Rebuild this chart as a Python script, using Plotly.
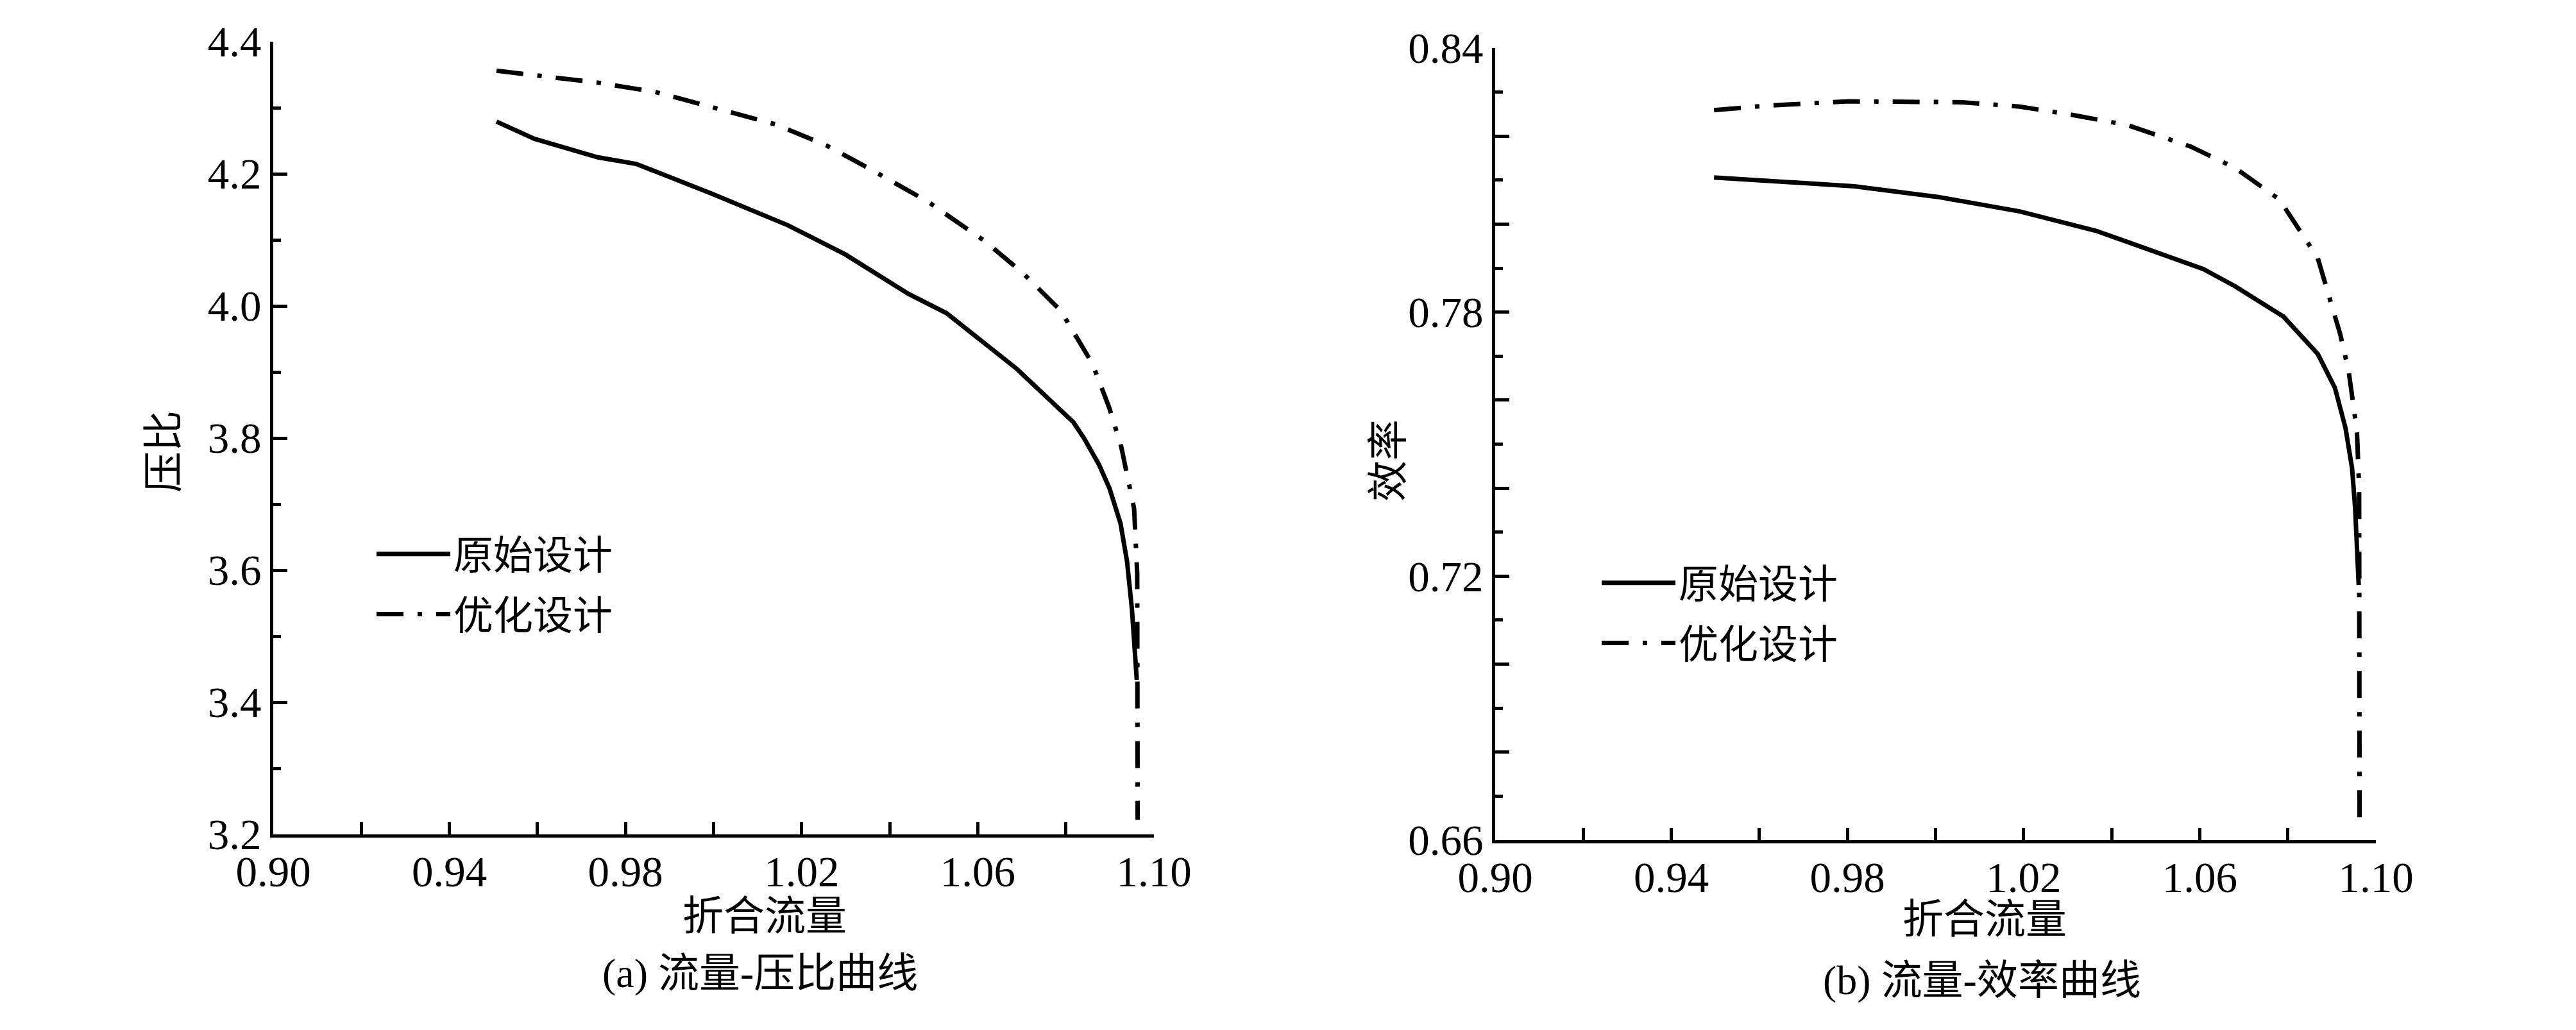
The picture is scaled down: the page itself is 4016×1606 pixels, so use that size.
import plotly.graph_objects as go

# ---------------- data ----------------
# (a) flow vs pressure ratio
flow_a_orig = [0.9507, 0.9593, 0.9737, 0.9824, 0.9996, 1.0169, 1.0299, 1.0443, 1.0529,
               1.0688, 1.0817, 1.0841, 1.0875, 1.0899, 1.0924, 1.0939, 1.0950, 1.0955, 1.0961]
pr_orig = [4.279, 4.253, 4.225, 4.215, 4.170, 4.122, 4.078, 4.018, 3.989,
           3.905, 3.824, 3.800, 3.760, 3.724, 3.671, 3.613, 3.541, 3.487, 3.434]

flow_a_opt = [0.9507, 0.9600, 0.9737, 0.9867, 0.9996, 1.0140, 1.0256, 1.0356, 1.0486,
              1.0616, 1.0702, 1.0788, 1.0860, 1.0899, 1.0926, 1.0955, 1.0962, 1.0963, 1.0963]
pr_opt = [4.356, 4.349, 4.338, 4.324, 4.301, 4.275, 4.243, 4.207, 4.158,
          4.098, 4.050, 3.993, 3.913, 3.845, 3.786, 3.693, 3.595, 3.479, 3.222]

# (b) flow vs efficiency
flow_b_orig = [0.9497, 0.9672, 0.9816, 1.0004, 1.0191, 1.0364, 1.0508, 1.0608, 1.0680,
               1.0790, 1.0868, 1.0907, 1.0931, 1.0946, 1.0953, 1.0958, 1.0961]
eff_orig = [0.8106, 0.8095, 0.8086, 0.8062, 0.8029, 0.7985, 0.7935, 0.7898, 0.7859,
            0.7790, 0.7705, 0.7628, 0.7537, 0.7445, 0.7353, 0.7263, 0.7180]

flow_b_opt = [0.9497, 0.9615, 0.9802, 0.9932, 1.0061, 1.0191, 1.0306, 1.0436, 1.0580,
              1.0680, 1.0781, 1.0868, 1.0919, 1.0938, 1.0957, 1.0962, 1.0963]
eff_opt = [0.8259, 0.8269, 0.8279, 0.8279, 0.8277, 0.8267, 0.8249, 0.8225, 0.8176,
           0.8128, 0.8056, 0.7923, 0.7750, 0.7667, 0.7530, 0.7400, 0.6638]

series_names = ["原始设计", "优化设计"]

x_tickvals = [0.90, 0.92, 0.94, 0.96, 0.98, 1.00, 1.02, 1.04, 1.06, 1.08, 1.10]
x_ticktext = ["0.90", "", "0.94", "", "0.98", "", "1.02", "", "1.06", "", "1.10"]
ya_tickvals = [3.2, 3.4, 3.6, 3.8, 4.0, 4.2, 4.4]
ya_ticktext = ["3.2", "3.4", "3.6", "3.8", "4.0", "4.2", "4.4"]
yb_tickvals = [0.66, 0.68, 0.70, 0.72, 0.74, 0.76, 0.78, 0.80, 0.82, 0.84]
yb_ticktext = ["0.66", "", "", "0.72", "", "", "0.78", "", "", "0.84"]

# ---------------- styling ----------------
SERIF = "Liberation Serif, Times New Roman, serif"
CJK = "Liberation Serif, Noto Sans CJK SC, serif"
LW = 7
DASHDOT = "42px,22px,7px,22px"

fig = go.Figure()

fig.add_trace(go.Scatter(x=flow_a_orig, y=pr_orig, mode="lines", name=series_names[0],
                         legendgroup="a1", line=dict(color="black", width=LW),
                         xaxis="x", yaxis="y", legend="legend"))
fig.add_trace(go.Scatter(x=flow_a_opt, y=pr_opt, mode="lines", name=series_names[1],
                         legendgroup="a2", line=dict(color="black", width=LW, dash=DASHDOT),
                         xaxis="x", yaxis="y", legend="legend"))
fig.add_trace(go.Scatter(x=flow_b_orig, y=eff_orig, mode="lines", name=series_names[0],
                         legendgroup="b1", line=dict(color="black", width=LW),
                         xaxis="x2", yaxis="y2", legend="legend2"))
fig.add_trace(go.Scatter(x=flow_b_opt, y=eff_opt, mode="lines", name=series_names[1],
                         legendgroup="b2", line=dict(color="black", width=LW, dash=DASHDOT),
                         xaxis="x2", yaxis="y2", legend="legend2"))

W, H = 4016, 1606
OFF = 8  # page body margin

def px(x):
    return (x - OFF) / W

def py(y):
    return (H - (y - OFF)) / H

axis_common = dict(showline=True, linecolor="black", linewidth=5, mirror=False,
                   showgrid=False, zeroline=False, ticks="inside", tickcolor="black",
                   tickwidth=5, tickmode="array", automargin=False,
                   tickfont=dict(family=SERIF, size=67, color="black"))

def ann(text, x, y, angle=0):
    return dict(text=text, x=px(x), y=py(y), xref="paper", yref="paper",
                xanchor="center", yanchor="middle", textangle=angle,
                showarrow=False, font=dict(family=CJK, size=64, color="black"))

fig.update_layout(
    width=W, height=H,
    margin=dict(l=0, r=0, t=0, b=0, autoexpand=False),
    paper_bgcolor="white", plot_bgcolor="white",
    xaxis=dict(domain=[px(426), px(1799)], range=[0.90, 1.10], anchor="y",
               tickvals=x_tickvals, ticktext=x_ticktext, ticklen=19,
               ticklabelstandoff=-4, **axis_common),
    yaxis=dict(domain=[py(1301), py(65)], range=[3.2, 4.4], anchor="x",
               tickvals=ya_tickvals, ticktext=ya_ticktext, ticklen=22,
               ticklabelstandoff=0,
               minor=dict(tick0=3.2, dtick=0.1, ticks="inside", ticklen=12,
                          tickwidth=5, tickcolor="black"),
               **axis_common),
    xaxis2=dict(domain=[px(2331), px(3704)], range=[0.90, 1.10], anchor="y2",
                tickvals=x_tickvals, ticktext=x_ticktext, ticklen=19,
                ticklabelstandoff=-4, **axis_common),
    yaxis2=dict(domain=[py(1310), py(75)], range=[0.66, 0.84], anchor="x2",
                tickvals=yb_tickvals, ticktext=yb_ticktext, ticklen=22,
                ticklabelstandoff=0,
                minor=dict(tick0=0.66, dtick=0.01, ticks="inside", ticklen=12,
                           tickwidth=5, tickcolor="black"),
                **axis_common),
    legend=dict(x=px(582), y=py(817), xanchor="left", yanchor="top",
                bgcolor="rgba(0,0,0,0)", font=dict(family=CJK, size=62, color="black"),
                itemwidth=115, tracegroupgap=10),
    legend2=dict(x=px(2492), y=py(862), xanchor="left", yanchor="top",
                 bgcolor="rgba(0,0,0,0)", font=dict(family=CJK, size=62, color="black"),
                 itemwidth=115, tracegroupgap=10),
    annotations=[
        ann("折合流量", 1192, 1428),
        ann("(a) 流量-压比曲线", 1185, 1517),
        ann("压比", 256, 704, -90),
        ann("折合流量", 3094, 1433),
        ann("(b) 流量-效率曲线", 3090, 1528),
        ann("效率", 2164, 718, -90),
    ],
)

fig.write_html("out.html")
